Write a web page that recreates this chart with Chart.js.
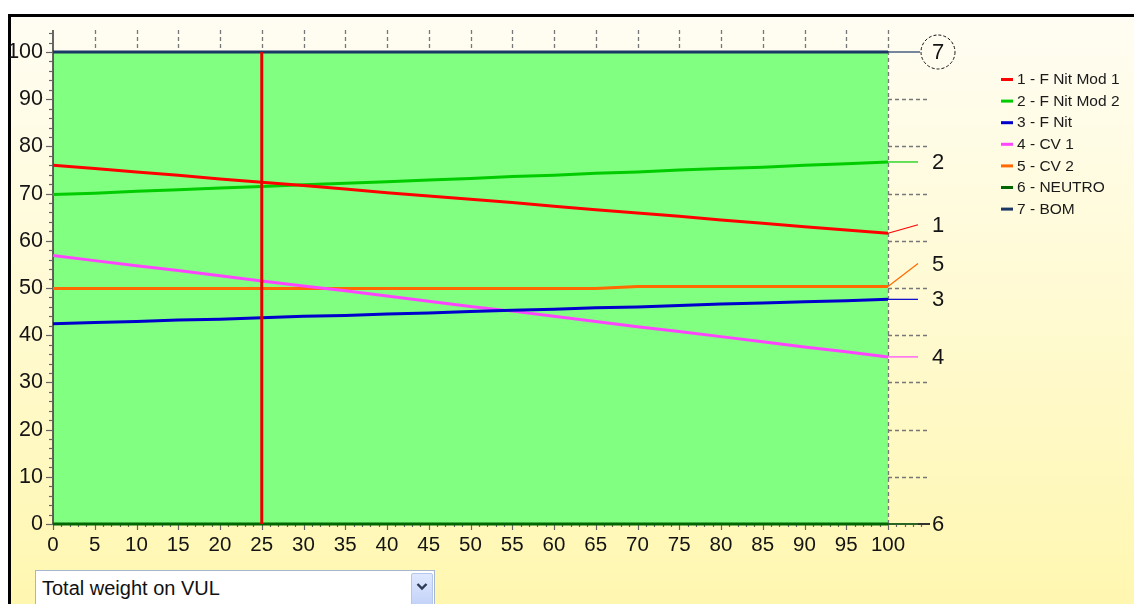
<!DOCTYPE html>
<html>
<head>
<meta charset="utf-8">
<script src="https://cdn.jsdelivr.net/npm/chart.js@4.4.1/dist/chart.umd.min.js"></script>
<style>
html,body{margin:0;padding:0;width:1134px;height:604px;overflow:hidden;background:#fff;}
#wrap{position:absolute;left:0;top:0;width:1134px;height:604px;}
#combo{position:absolute;left:35px;top:570px;width:400px;height:40px;background:#fff;border:1px solid #a7b6cc;box-sizing:border-box;
 font-family:"Liberation Sans",Arial,sans-serif;font-size:20px;color:#111;}
#combo span{position:absolute;left:6px;top:6px;}
#combo .btn{position:absolute;right:1px;top:2px;width:22px;height:40px;border:1px solid #b5c6ee;border-radius:2px;
 background:linear-gradient(#dfe8ff,#bccdf6);box-sizing:border-box;}
#combo .btn svg{position:absolute;left:4px;top:8px;}
</style>
</head>
<body>
<div id="wrap"><canvas id="c" width="1134" height="604"></canvas></div>
<div id="combo"><span>Total weight on VUL</span><div class="btn"><svg width="12" height="10" viewBox="0 0 12 10"><path d="M1.5 2 L6 6.5 L10.5 2" stroke="#2b3a55" stroke-width="2.4" fill="none"/></svg></div></div>
<script>
// ---- data ----
const xValues = [0,5,10,15,20,25,30,35,40,45,50,55,60,65,70,75,80,85,90,95,100];
const seriesNames = ['1 - F Nit Mod 1','2 - F Nit Mod 2','3 - F Nit','4 - CV 1','5 - CV 2','6 - NEUTRO','7 - BOM'];
const seriesColors = ['#ff0000','#00cc00','#0000cc','#ff44ff','#ff6a00','#006600','#1a3766'];
const s1 = [76.0,75.3,74.6,73.9,73.1,72.4,71.7,71.0,70.2,69.5,68.8,68.1,67.3,66.6,65.9,65.2,64.4,63.7,63.0,62.3,61.6];
const s2 = [69.8,70.1,70.5,70.8,71.2,71.5,71.9,72.2,72.5,72.9,73.2,73.6,73.9,74.3,74.6,75.0,75.3,75.6,76.0,76.3,76.7];
const s3 = [42.4,42.7,42.9,43.2,43.4,43.7,44.0,44.2,44.5,44.7,45.0,45.3,45.5,45.8,46.0,46.3,46.6,46.8,47.1,47.3,47.6];
const s4 = [56.9,55.8,54.7,53.7,52.6,51.5,50.4,49.4,48.3,47.2,46.1,45.1,44.0,42.9,41.8,40.8,39.7,38.6,37.5,36.5,35.4];
const s5 = [49.9,49.9,49.9,49.9,49.9,49.9,49.9,49.9,49.9,49.9,49.9,49.9,49.9,49.9,50.3,50.3,50.3,50.3,50.3,50.3,50.3];
const s6 = [0,0,0,0,0,0,0,0,0,0,0,0,0,0,0,0,0,0,0,0,0];
const s7 = [100,100,100,100,100,100,100,100,100,100,100,100,100,100,100,100,100,100,100,100,100];
const endLabels = ['1','2','3','4','5','6','7'];
const endLabelValues = [63.4,76.7,47.6,35.4,55.2,0,100];
const cursorX = 25;
const yTicks = [0,10,20,30,40,50,60,70,80,90,100];
const xTicks = [0,5,10,15,20,25,30,35,40,45,50,55,60,65,70,75,80,85,90,95,100];

const allSeries = [s1,s2,s3,s4,s5,s6,s7];
const FONT = '"Liberation Sans", Arial, sans-serif';

const deco = {
  id:'deco',
  beforeDraw(chart){
    const {ctx, chartArea:a} = chart;
    const W = chart.width, H = chart.height;
    ctx.save();
    ctx.fillStyle = '#fff'; ctx.fillRect(0,0,W,H);
    const g = ctx.createLinearGradient(0,17,0,H);
    g.addColorStop(0,'#fffdf3'); g.addColorStop(1,'#fff7b0');
    ctx.fillStyle = g; ctx.fillRect(10,16,W-10,H-16);
    ctx.fillStyle = '#000'; ctx.fillRect(8,14,W-8,3); ctx.fillRect(8,14,3,H-14);
    ctx.fillStyle = '#80ff80'; ctx.fillRect(a.left,a.top,a.right-a.left,a.bottom-a.top);
    ctx.restore();
  },
  beforeDatasetsDraw(chart){
    const {ctx, chartArea:a, scales:{x,y}} = chart;
    ctx.save();
    const xr = x.getPixelForValue(100);
    // dashed top ticks
    ctx.strokeStyle = '#777'; ctx.lineWidth = 1.3; ctx.setLineDash([4,3]);
    for (let v=5; v<=95; v+=5){
      const px = Math.round(x.getPixelForValue(v))+0.5;
      ctx.beginPath(); ctx.moveTo(px,30); ctx.lineTo(px,48); ctx.stroke();
    }
    // right dashed vertical
    ctx.beginPath(); ctx.moveTo(Math.round(xr)+0.5,30); ctx.lineTo(Math.round(xr)+0.5,a.bottom); ctx.stroke();
    for (let v=10; v<=90; v+=10){
      const py = Math.round(y.getPixelForValue(v))+0.5;
      ctx.beginPath(); ctx.moveTo(xr,py); ctx.lineTo(xr+42,py); ctx.stroke();
    }
    ctx.setLineDash([]);
    // left axis line and ticks
    ctx.strokeStyle = '#333'; ctx.lineWidth = 1.5;
    ctx.beginPath(); ctx.moveTo(a.left,30); ctx.lineTo(a.left,a.bottom); ctx.stroke();
    ctx.strokeStyle = '#666'; ctx.lineWidth = 1.2;
    for (let v=0; v<=104; v+=2){
      const py = Math.round(y.getPixelForValue(v))+0.5;
      const len = v%10===0 ? 7 : 4;
      ctx.beginPath(); ctx.moveTo(a.left-len,py); ctx.lineTo(a.left,py); ctx.stroke();
    }
    // x axis line and ticks
    ctx.strokeStyle = '#333'; ctx.lineWidth = 1.5;
    ctx.beginPath(); ctx.moveTo(a.left,a.bottom); ctx.lineTo(xr+42,a.bottom); ctx.stroke();
    ctx.strokeStyle = '#666'; ctx.lineWidth = 1.2;
    for (let v=0; v<=104; v+=1){
      const px = Math.round(x.getPixelForValue(v))+0.5;
      const len = v%5===0 ? 6 : 3;
      ctx.beginPath(); ctx.moveTo(px,a.bottom); ctx.lineTo(px,a.bottom+len); ctx.stroke();
    }
    ctx.restore();
  },
  afterDatasetsDraw(chart){
    const {ctx, chartArea:a, scales:{x,y}} = chart;
    ctx.save();
    // cursor
    const cx = x.getPixelForValue(cursorX);
    ctx.strokeStyle = '#e80000'; ctx.lineWidth = 3;
    ctx.beginPath(); ctx.moveTo(cx,a.top); ctx.lineTo(cx,a.bottom); ctx.stroke();
    // end extensions and labels
    const xr = x.getPixelForValue(100);
    const xEnd = xr + 30;
    const lx = xr + 50;
    allSeries.forEach((s,i)=>{
      const y0 = y.getPixelForValue(s[s.length-1]);
      const y1 = y.getPixelForValue(endLabelValues[i]);
      ctx.strokeStyle = seriesColors[i]; ctx.lineWidth = 1.2;
      ctx.beginPath(); ctx.moveTo(xr,y0); ctx.lineTo(i===6?xr+32:xEnd,y1); ctx.stroke();
      if (i===5){
        ctx.strokeStyle = '#222'; ctx.lineWidth = 1.5;
        ctx.beginPath(); ctx.moveTo(xEnd,y1); ctx.lineTo(xr+42,y1); ctx.stroke();
      }
      ctx.fillStyle = '#141414';
      ctx.font = '22px ' + FONT;
      ctx.textAlign = 'center'; ctx.textBaseline = 'middle';
      ctx.fillText(endLabels[i], lx, y1+1);
      if (i===6){
        ctx.strokeStyle = '#111'; ctx.lineWidth = 1; ctx.setLineDash([3,2]);
        ctx.beginPath(); ctx.arc(lx, y1, 17, 0, Math.PI*2); ctx.stroke();
        ctx.setLineDash([]);
      }
    });
    ctx.restore();
  },
  afterDraw(chart){
    const {ctx} = chart;
    ctx.save();
    ctx.font = '15.5px ' + FONT;
    ctx.textAlign = 'left'; ctx.textBaseline = 'middle';
    seriesNames.forEach((n,i)=>{
      const py = 79 + i*21.6;
      ctx.fillStyle = seriesColors[i];
      ctx.fillRect(1001, py-1, 12, 3);
      ctx.fillStyle = '#1a1a1a';
      ctx.fillText(n, 1017, py+1);
    });
    ctx.restore();
  }
};

const datasets = allSeries.map((s,i)=>({
  label: seriesNames[i],
  data: s.map((v,k)=>({x:xValues[k], y:v})),
  borderColor: seriesColors[i],
  backgroundColor: seriesColors[i],
  borderWidth: 3,
  pointRadius: 0,
  tension: 0,
  fill: false,
  clip: 3
}));

new Chart(document.getElementById('c'), {
  type: 'line',
  data: { datasets },
  plugins: [deco],
  options: {
    responsive: false,
    animation: false,
    devicePixelRatio: 1,
    layout: { padding: { left: 10, top: 52, right: 246, bottom: 40 } },
    plugins: { legend: { display: false }, tooltip: { enabled: false } },
    scales: {
      x: {
        type: 'linear', min: 0, max: 100,
        afterBuildTicks(s){ s.ticks = xTicks.map(v=>({value:v})); },
        afterFit(s){ s.height = 40; },
        grid: { display: false, drawTicks: false },
        border: { display: false },
        ticks: { color: '#141414', font: { family: FONT, size: 20.5 }, padding: 9, maxRotation: 0, autoSkip: false }
      },
      y: {
        type: 'linear', min: 0, max: 100,
        afterBuildTicks(s){ s.ticks = yTicks.map(v=>({value:v})); },
        afterFit(s){ s.width = 43; },
        grid: { display: false, drawTicks: false },
        border: { display: false },
        ticks: { color: '#141414', font: { family: FONT, size: 21.5 }, padding: 10 }
      }
    }
  }
});
</script>
</body>
</html>
